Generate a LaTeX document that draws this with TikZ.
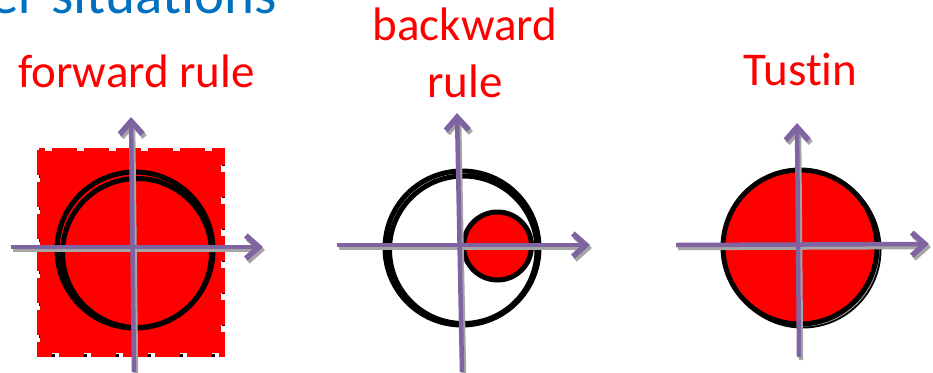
\documentclass[tikz,border=0pt]{standalone}
\usepackage{fontspec}
\setmainfont{Carlito}[Ligatures=NoCommon]
\usepackage{xcolor}
\usetikzlibrary{arrows.meta}

\definecolor{axpurple}{RGB}{128,100,162}
\definecolor{shadowgray}{RGB}{165,165,165}
\definecolor{titleblue}{RGB}{0,112,192}

\begin{document}
\begin{tikzpicture}[
        x=1pt, y=-1pt,
        lbl/.style={text=red, font=\fontsize{47}{57}\selectfont, inner sep=0pt, anchor=base, align=center},
        axis/.style={draw=axpurple, line width=4.5pt, -{Straight Barb[length=13pt, width=23pt, line width=5.5pt]}},
        axshadow/.style={axis, draw=shadowgray, shift={(2,3)}},
        ring/.style={draw=black, line width=5pt},
        edge/.style={line width=#1, dash pattern=on 25pt off 7pt}
    ]
    \useasboundingbox (0,0) rectangle (933,372);
    \clip (0,0) rectangle (933,372);

    % title and labels
    \node[text=titleblue, font=\fontsize{57}{68}\selectfont, inner sep=0pt, anchor=base east] (title) at (277,13) {er situations};
    \node[lbl] (fwd) at (136.5,87) {forward rule};
    \node[lbl] (bwd) at (465,40) {backward};
    \node[lbl] (bwd2) at (465,97) {rule};
    \node[lbl] (tus) at (800.5,85) {Tustin};

    % forward rule: red square
    \draw[edge=3.5pt, black] (40.5,152.5) rectangle (223.5,355.5);
    \fill[red] (40,151) rectangle (221,353);
    \draw[edge=5pt, red] (39,150) rectangle (222,354);
    \draw[ring] (135,250) circle (78);
    \draw[ring] (137,253) circle (74.5);

    % backward rule: small disc inside the circle
    \draw[ring] (462,248) circle (77);
    \draw[ring] (463.25,249.75) circle (73.75);
    \draw[ring, fill=red] (497.5,246) circle (34);

    % Tustin: filled disc
    \draw[ring] (802.5,249.5) circle (76.5);
    \draw[shadowgray, line width=1.2pt] (802.5,249.5) circle (76.5);
    \draw[ring, fill=red] (800,247) circle (77);

    % axes
    \foreach \hx/\hy/\hX/\hY/\vx/\vy/\vX/\vY in {
        11/247/263/247/134/372/131/117,
        337/245/590/245/462/372/457/113,
        676/245/929/244/799/357/797/123} {
        \draw[axshadow] (\hx,\hy) -- (\hX,\hY);
        \draw[axshadow] (\vx,\vy) -- (\vX,\vY);
        \draw[axis] (\hx,\hy) -- (\hX,\hY);
        \draw[axis] (\vx,\vy) -- (\vX,\vY);
    }
\end{tikzpicture}
\end{document}
